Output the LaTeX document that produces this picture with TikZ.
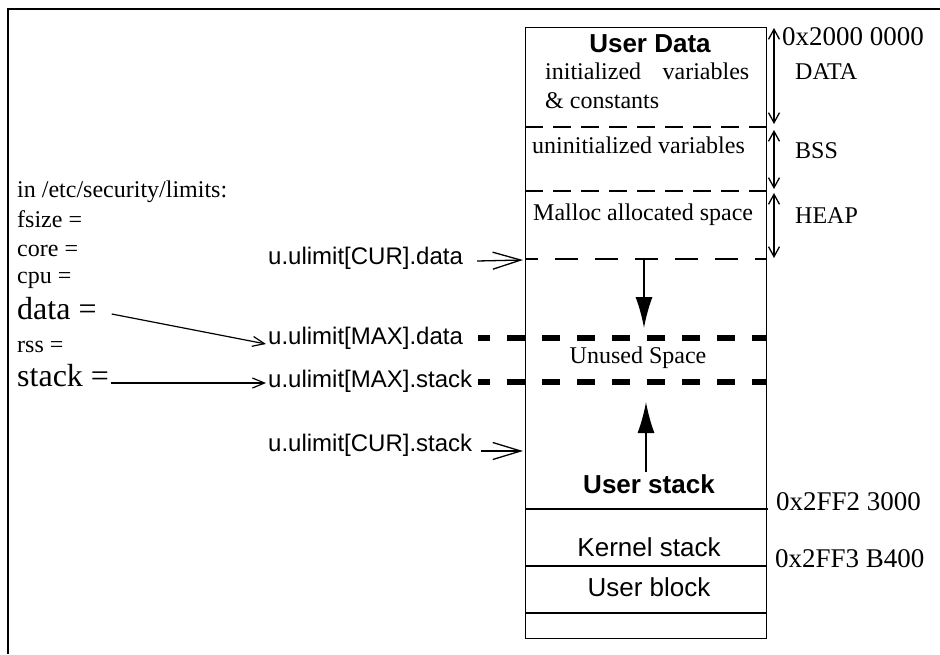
\documentclass[tikz,border=0pt]{standalone}
\usepackage{fontspec}
\setmainfont{Liberation Serif}
\setsansfont{Liberation Sans}
\usetikzlibrary{arrows.meta}
\begin{document}
\begin{tikzpicture}[x=1pt,y=-1pt,
  txt/.style={inner sep=0pt},
  ser/.style={txt,font=\fontsize{24}{28}\selectfont},
  serbig/.style={txt,font=\fontsize{32}{36}\selectfont},
  addr/.style={txt,font=\fontsize{27}{30}\selectfont},
  sans/.style={txt,font=\sffamily\fontsize{24}{28}\selectfont},
  sansl/.style={txt,font=\sffamily\fontsize{26}{30}\selectfont},
  sansb/.style={txt,font=\sffamily\bfseries\fontsize{26}{30}\selectfont},
  frameline/.style={line width=1.3pt},
  divider/.style={line width=1.2pt},
  thindash/.style={line width=1.2pt,dash pattern=on 18pt off 10pt},
  limdash/.style={line width=1.2pt,dash pattern=on 23pt off 17pt,dash phase=10pt},
  thickdash/.style={line width=6pt,dash pattern=on 18pt off 17pt,dash phase=6pt},
  growarrow/.style={line width=1.5pt,-{Latex[length=31pt,width=17pt]}},
  spanarrow/.style={line width=1.3pt,{Straight Barb[length=10pt,width=11pt]}-{Straight Barb[length=10pt,width=11pt]}},
  ptrarrow/.style={line width=1.3pt,-{Straight Barb[length=28pt,width=17pt]}},
  limarrow/.style={line width=1.2pt,-{Straight Barb[length=12pt,width=10pt]}}
]
\useasboundingbox (0,0) rectangle (940,654);
% frame
\draw[frameline] (8,654) -- (8,9) -- (940,9);

% memory box
\node[draw,line width=1.3pt,minimum width=241pt,minimum height=611pt,inner sep=0pt,anchor=north west] (box) at (525,27) {};

% dividers
\draw[thindash] (525,127) -- (766,127);
\draw[thindash] (525,191) -- (766,191);
\draw[limdash] (525,259) -- (766,259);
\draw[thickdash] (478,338) -- (766,338);
\draw[thickdash] (478,382) -- (766,382);
\draw[divider] (525,509) -- (768,509);
\draw[divider] (525,566) -- (766,566);
\draw[divider] (525,613) -- (766,613);

% box texts
\node[sansb,anchor=base] (udata) at (650,52) {User Data};
\node[ser,anchor=base west] (initv) at (545,79) {\makebox[204pt][s]{initialized variables}};
\node[ser,anchor=base west] (consts) at (545,108) {\&~constants};
\node[ser,anchor=base west] (uninit) at (532,153) {uninitialized variables};
\node[ser,anchor=base west] (malloc) at (533,220) {Malloc allocated space};
\node[ser,anchor=base] (unused) at (638,363) {Unused Space};
\node[sansb,anchor=base] (ustack) at (649,493) {User stack};
\node[sansl,anchor=base] (kstack) at (649,556) {Kernel stack};
\node[sansl,anchor=base] (ublock) at (649,596) {User block};

% growth arrows
\coordinate (heaptop) at (644,259);
\coordinate (heaptip) at (644,328);
\coordinate (stackbot) at (646,472);
\coordinate (stacktip) at (646,402);
\draw[growarrow] (heaptop) -- (heaptip);
\draw[growarrow] (stackbot) -- (stacktip);

% right side segments
\coordinate (s0) at (774,28);
\coordinate (s1) at (774,124);
\coordinate (s2) at (774,130);
\coordinate (s3) at (774,189);
\coordinate (s4) at (774,193);
\coordinate (s5) at (774,258);
\draw[spanarrow] (s0) -- (s1);
\draw[spanarrow] (s2) -- (s3);
\draw[spanarrow] (s4) -- (s5);
\node[addr,anchor=base west] (a1) at (782,45) {0x2000 0000};
\node[ser,anchor=base west] (ldata) at (795,79) {DATA};
\node[ser,anchor=base west] (lbss) at (795,158) {BSS};
\node[ser,anchor=base west] (lheap) at (795,223) {HEAP};
\node[addr,anchor=base west] (a2) at (776,510) {0x2FF2 3000};
\node[addr,anchor=base west] (a3) at (775,567) {0x2FF3 B400};

% limits file
\node[ser,anchor=base west] (limfile) at (17,197) {in /etc/security/limits:};
\node[ser,anchor=base west] (fsize) at (17,227) {fsize =};
\node[ser,anchor=base west] (core) at (17,256) {core =};
\node[ser,anchor=base west] (cpu) at (17,283) {cpu =};
\node[serbig,anchor=base west] (dataeq) at (17,319) {data =};
\node[ser,anchor=base west] (rss) at (17,352) {rss =};
\node[serbig,anchor=base west] (stackeq) at (17,386) {stack =};

% ulimit labels
\node[sans,anchor=base west] (curdata) at (268,264) {u.ulimit[CUR].data};
\node[sans,anchor=base west] (maxdata) at (268,344) {u.ulimit[MAX].data};
\node[sans,anchor=base west] (maxstack) at (268,387) {u.ulimit[MAX].stack};
\node[sans,anchor=base west] (curstack) at (268,451) {u.ulimit[CUR].stack};

\coordinate (cdtip) at (523,260);
\coordinate (cstip) at (523,451);
\draw[ptrarrow] ([xshift=14pt,yshift=3pt]curdata.base east) -- (cdtip);
\draw[ptrarrow] ([xshift=9pt,yshift=0pt]curstack.base east) -- (cstip);
\draw[limarrow] ([xshift=15pt,yshift=5pt]dataeq.base east) -- ([xshift=-2pt,yshift=0pt]maxdata.base west);
\draw[limarrow] ([xshift=2pt,yshift=3pt]stackeq.base east) -- ([xshift=-2pt,yshift=4pt]maxstack.base west);
\end{tikzpicture}
\end{document}
